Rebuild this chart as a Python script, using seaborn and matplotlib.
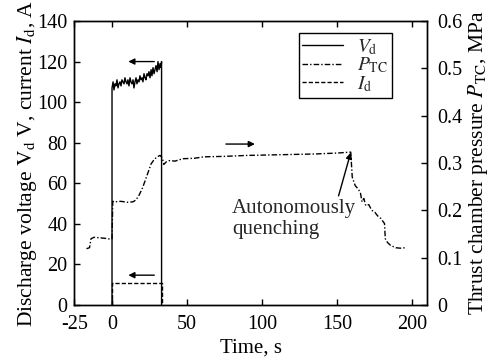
import matplotlib
matplotlib.use("Agg")
import matplotlib.pyplot as plt
import seaborn as sns
import pandas as pd
from matplotlib.lines import Line2D

sns.set_theme(style="white")
plt.rcParams['font.family'] = ['Liberation Serif', 'DejaVu Serif']
plt.rcParams['mathtext.fontset'] = 'stix'

# Discharge voltage V_d (V)
vd_time = [0, 0, 0.7, 1.3, 2, 2.6, 3.3, 4, 4.6, 5.3, 6, 6.6, 7.3, 8, 8.6, 9.3, 10, 10.6, 11.3,
           12, 12.6, 13.3, 14, 14.6, 15.3, 16, 16.6, 17.3, 18, 18.6, 19.3, 20, 20.6, 21.3, 22,
           22.6, 23.3, 24, 24.6, 25.3, 26, 26.6, 27.3, 28, 28.6, 29.3, 30, 30.6, 31.3, 32, 32.6, 33, 33]
vd_value = [0, 107, 110, 106, 109, 108, 111, 107, 109, 110, 108, 111, 110, 109, 112, 110, 109, 111,
            108, 112, 110, 109, 111, 107, 110, 112, 109, 111, 110, 113, 111, 112, 110, 114, 112,
            111, 114, 113, 115, 112, 116, 113, 117, 114, 116, 118, 115, 120, 116, 119, 117, 120, 0]

# Thrust chamber pressure P_TC (MPa)
ptc_time = [-17, -15, -14, -12, -5, -1, 0, 0.5, 2, 6, 10, 14, 16, 18, 20, 22, 24, 26, 28, 30, 32,
            33.5, 34.5, 36, 38, 42, 47, 55, 61, 75, 90, 105, 120, 135, 150, 159,
            160, 162, 164, 165.5, 166.5, 167.7, 169, 171, 173, 175, 177, 179, 181.5,
            182, 183.5, 185.5, 189, 192, 195.5]
ptc_value = [0.119, 0.121, 0.140, 0.143, 0.141, 0.139, 0.140, 0.219, 0.218, 0.219, 0.217, 0.218,
             0.222, 0.232, 0.245, 0.262, 0.280, 0.298, 0.307, 0.313, 0.316, 0.311, 0.297, 0.302,
             0.305, 0.304, 0.309, 0.310, 0.313, 0.314, 0.316, 0.317, 0.318, 0.319, 0.321, 0.323,
             0.270, 0.252, 0.245, 0.236, 0.218, 0.225, 0.210, 0.212, 0.200, 0.196, 0.188, 0.183,
             0.172, 0.140, 0.132, 0.126, 0.121, 0.120, 0.121]

# Discharge current I_d (A)
id_time = [0, 0, 33, 33]
id_value = [0, 11, 11, 0]

x_ticks = [-25, 0, 50, 100, 150, 200]
x_ticklabels = ["-25", "0", "50", "100", "150", "200"]
p_ticks = [0, 0.1, 0.2, 0.3, 0.4, 0.5, 0.6]
p_ticklabels = ["0", "0.1", "0.2", "0.3", "0.4", "0.5", "0.6"]

fig = plt.figure(figsize=(4.91, 3.6), dpi=100)
ax = fig.add_axes([0.1517, 0.1528, 0.7186, 0.7889])
ax2 = ax.twinx()

fs = 15
tfs = 14.5
dash_dot = (0, (4, 1.5, 1, 1.5))
dashed = (0, (3, 1.5))
vd_df = pd.DataFrame({"t": vd_time, "v": vd_value})
id_df = pd.DataFrame({"t": id_time, "v": id_value})
p_df = pd.DataFrame({"t": ptc_time, "v": ptc_value})

sns.lineplot(data=vd_df, x="t", y="v", ax=ax, sort=False, estimator=None, color="black", lw=1.0)
sns.lineplot(data=id_df, x="t", y="v", ax=ax, sort=False, estimator=None, color="black", lw=1.0,
             linestyle=dashed)
sns.lineplot(data=p_df, x="t", y="v", ax=ax2, sort=False, estimator=None, color="black", lw=1.0,
             linestyle=dash_dot)

ax.set_xlim(-25, 210)
ax.set_ylim(0, 140)
ax2.set_ylim(0, 0.6)
ax.set_xticks(x_ticks)
ax.set_xticklabels(x_ticklabels)
ax.set_yticks(range(0, 141, 20))
ax2.set_yticks(p_ticks)
ax2.set_yticklabels(p_ticklabels)

for a in (ax, ax2):
    for s in a.spines.values():
        s.set_color("black")
        s.set_linewidth(1.0)
ax.tick_params(axis="x", direction="in", top=True, bottom=True, length=4, width=1,
               labelsize=tfs, pad=7.5, colors="black")
ax.tick_params(axis="y", direction="in", left=True, right=False, length=4, width=1,
               labelsize=tfs, pad=5, colors="black")
ax2.tick_params(axis="y", direction="in", right=True, left=False, length=4, width=1,
                labelsize=tfs, pad=7, colors="black")

ax.set_xlabel("Time, s", fontsize=fs, labelpad=3, color="black")
ax.set_ylabel(r"Discharge voltage $\mathrm{V_d}$ V, current $I_\mathrm{d}$, A", fontsize=15.5,
              labelpad=-1, color="black")
ax2.set_ylabel(r"Thrust chamber pressure $P_\mathrm{TC}$, MPa", fontsize=15.5, labelpad=3,
               color="black")

handles = [Line2D([], [], color="black", lw=1.0),
           Line2D([], [], color="black", lw=1.0, linestyle=dash_dot),
           Line2D([], [], color="black", lw=1.0, linestyle=dashed)]
labels = [r"$V_\mathrm{d}$", r"$P_\mathrm{TC}$", r"$I_\mathrm{d}$"]
leg = ax.legend(handles, labels, loc="upper right", bbox_to_anchor=(0.899, 0.958), fontsize=14,
                frameon=True, fancybox=False, edgecolor="black", framealpha=1,
                handlelength=2.1, handletextpad=0.7, labelspacing=-0.05, borderpad=0.2,
                borderaxespad=0)
leg.get_frame().set_linewidth(1.0)

arrow_kw = dict(arrowstyle="-|>", color="black", lw=1.0, mutation_scale=9)
ax.annotate("", xy=(9, 120), xytext=(30, 120), arrowprops=arrow_kw)
ax.annotate("", xy=(9, 14.7), xytext=(30, 14.7), arrowprops=arrow_kw)
ax2.annotate("", xy=(97, 0.340), xytext=(74, 0.340), arrowprops=arrow_kw)
ax2.annotate("Autonomously\nquenching", xy=(159, 0.322), xytext=(80, 0.182),
             fontsize=fs, ha="left", va="center", linespacing=1.1,
             arrowprops=dict(arrowstyle="-|>", color="black", lw=1.0, mutation_scale=9,
                             relpos=(0.85, 1.0), shrinkA=0, shrinkB=0))

fig.savefig("out.png", dpi=100)
